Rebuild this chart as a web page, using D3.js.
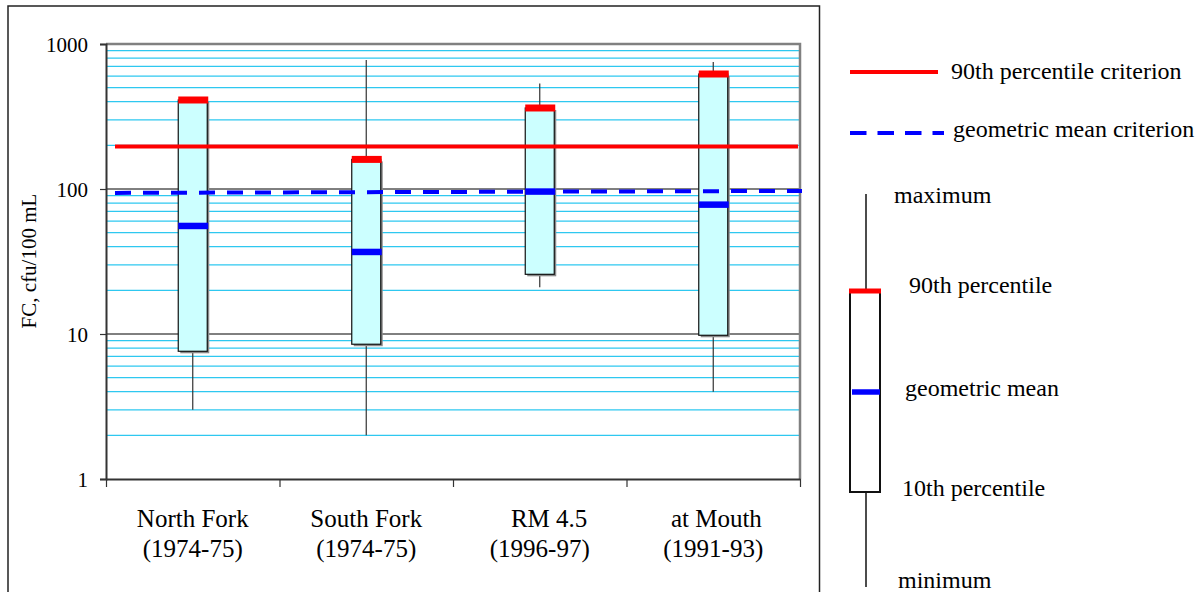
<!DOCTYPE html>
<html>
<head>
<meta charset="utf-8">
<script src="https://cdn.jsdelivr.net/npm/d3@7"></script>
<style>
  body { margin: 0; background: #fff; }
  text { font-family: "Liberation Serif", "Times New Roman", serif; fill: #000; }
</style>
</head>
<body>
<svg width="1199" height="592"></svg>
<script>
// data
var categories = ["North Fork", "South Fork", "   RM 4.5", " at Mouth"];
var periods = ["(1974-75)", "(1974-75)", "(1996-97)", "(1991-93)"];
var minimum = [3.0, 2.0, 21, 4.0];
var p10 = [7.6, 8.5, 25.8, 9.8];
var geoMean = [55.6, 36.8, 96, 78];
var p90 = [411, 160, 362, 621];
var maximum = [411, 776, 535, 752];
var pctCriterion = [196, 196];   // 90th percentile criterion, left and right end
var gmCriterion = [94, 97];      // geometric mean criterion, left and right end
var yTicks = [1, 10, 100, 1000];

var svg = d3.select("svg");

// outer frame
svg.append("rect").attr("x", 8).attr("y", 6).attr("width", 811.5).attr("height", 600)
    .attr("fill", "none").attr("stroke", "#222").attr("stroke-width", 1.5);

var plotL = 106, plotR = 800, plotT = 44, plotB = 479;

var y = d3.scaleLog().domain([1, 1000]).range([plotB, plotT]);
var x = d3.scaleBand().domain(d3.range(categories.length)).range([plotL, plotR]).padding(0);
var xEdge = d3.scaleLinear().domain([0, categories.length]).range([plotL, plotR]);
var boxW = 29;

var cx = function (i) { return x(i) + x.bandwidth() / 2; };

// minor gridlines
var minor = [];
[1, 10, 100].forEach(function (d) {
    for (var k = 2; k <= 9; k++) minor.push(d * k);
});
svg.append("g").selectAll("line").data(minor).enter().append("line")
    .attr("x1", plotL).attr("x2", plotR)
    .attr("y1", function (d) { return y(d); }).attr("y2", function (d) { return y(d); })
    .attr("stroke", "#2ec8f0").attr("stroke-width", 1.2);

// major gridlines
svg.append("g").selectAll("line").data([10, 100]).enter().append("line")
    .attr("x1", plotL).attr("x2", plotR)
    .attr("y1", function (d) { return y(d); }).attr("y2", function (d) { return y(d); })
    .attr("stroke", "#000").attr("stroke-width", 1);

// plot border top/right
svg.append("path")
    .attr("d", "M" + plotL + "," + plotT + "H" + plotR + "V" + plotB)
    .attr("fill", "none").attr("stroke", "#808080").attr("stroke-width", 2.5);

// y axis
var yAxis = svg.append("g").attr("transform", "translate(" + plotL + ",0)")
    .call(d3.axisLeft(y).tickValues(yTicks).tickFormat(d3.format("d")).tickSize(6).tickPadding(12));
yAxis.select(".domain").attr("stroke", "#333").attr("stroke-width", 2);
yAxis.selectAll(".tick line").attr("stroke", "#333").attr("stroke-width", 1.2);
yAxis.selectAll(".tick text").attr("font-size", 21).attr("font-family", "Liberation Serif")
    .attr("dy", "0.34em");

// x axis (ticks at band edges)
var xAxis = svg.append("g").attr("transform", "translate(0," + plotB + ")")
    .call(d3.axisBottom(xEdge).tickValues(d3.range(categories.length + 1)).tickFormat("").tickSize(8).tickSizeOuter(0));
xAxis.select(".domain").attr("stroke", "#333").attr("stroke-width", 2);
xAxis.selectAll(".tick line").attr("stroke", "#333").attr("stroke-width", 1.2);

// category labels
svg.append("g").selectAll("text").data(categories).enter().append("text")
    .attr("text-anchor", "middle").attr("font-size", 25).style("white-space", "pre")
    .attr("x", function (d, i) { return cx(i); }).attr("y", 527)
    .text(function (d) { return d; });
svg.append("g").selectAll("text").data(periods).enter().append("text")
    .attr("text-anchor", "middle").attr("font-size", 25)
    .attr("x", function (d, i) { return cx(i); }).attr("y", 557)
    .text(function (d) { return d; });

// y title
svg.append("text").attr("transform", "translate(36,261) rotate(-90)")
    .attr("text-anchor", "middle").attr("font-size", 21).text("FC, cfu/100 mL");

// boxes
var boxes = svg.append("g").selectAll("g").data(categories).enter().append("g");
boxes.append("line")
    .attr("x1", function (d, i) { return cx(i); }).attr("x2", function (d, i) { return cx(i); })
    .attr("y1", function (d, i) { return y(maximum[i]); }).attr("y2", function (d, i) { return y(p90[i]); })
    .attr("stroke", "#333").attr("stroke-width", 1.2);
boxes.append("line")
    .attr("x1", function (d, i) { return cx(i); }).attr("x2", function (d, i) { return cx(i); })
    .attr("y1", function (d, i) { return y(p10[i]); }).attr("y2", function (d, i) { return y(minimum[i]); })
    .attr("stroke", "#333").attr("stroke-width", 1.2);
// shadow
boxes.append("rect")
    .attr("x", function (d, i) { return cx(i) - boxW / 2 + 2; })
    .attr("y", function (d, i) { return y(p90[i]) + 2; })
    .attr("width", boxW)
    .attr("height", function (d, i) { return y(p10[i]) - y(p90[i]); })
    .attr("fill", "#8a8a8a");
boxes.append("rect")
    .attr("x", function (d, i) { return cx(i) - boxW / 2; })
    .attr("y", function (d, i) { return y(p90[i]); })
    .attr("width", boxW)
    .attr("height", function (d, i) { return y(p10[i]) - y(p90[i]); })
    .attr("fill", "#ccffff").attr("stroke", "#111").attr("stroke-width", 1.2);
boxes.append("line")
    .attr("x1", function (d, i) { return cx(i) - boxW / 2; }).attr("x2", function (d, i) { return cx(i) + boxW / 2 + 1; })
    .attr("y1", function (d, i) { return y(p90[i]); }).attr("y2", function (d, i) { return y(p90[i]); })
    .attr("stroke", "#ff0000").attr("stroke-width", 7);
boxes.append("line")
    .attr("x1", function (d, i) { return cx(i) - boxW / 2; }).attr("x2", function (d, i) { return cx(i) + boxW / 2 + 1; })
    .attr("y1", function (d, i) { return y(geoMean[i]); }).attr("y2", function (d, i) { return y(geoMean[i]); })
    .attr("stroke", "#0000ff").attr("stroke-width", 6.5);

// criterion lines
svg.append("line")
    .attr("x1", plotL + 9).attr("x2", plotR - 2)
    .attr("y1", y(pctCriterion[0])).attr("y2", y(pctCriterion[1]))
    .attr("stroke", "#ff0000").attr("stroke-width", 4);
svg.append("line")
    .attr("x1", plotL + 9).attr("x2", plotR + 2)
    .attr("y1", y(gmCriterion[0])).attr("y2", y(gmCriterion[1]))
    .attr("stroke", "#0000ff").attr("stroke-width", 4).attr("stroke-dasharray", "16,12");

// legend
var lg = svg.append("g").attr("font-size", 24);
lg.append("line").attr("x1", 850).attr("x2", 938).attr("y1", 72).attr("y2", 72)
    .attr("stroke", "#ff0000").attr("stroke-width", 4);
lg.append("text").attr("x", 951).attr("y", 79).text("90th percentile criterion");
lg.append("line").attr("x1", 850).attr("x2", 944).attr("y1", 133).attr("y2", 133)
    .attr("stroke", "#0000ff").attr("stroke-width", 4).attr("stroke-dasharray", "16.5,11");
lg.append("text").attr("x", 953).attr("y", 137).text("geometric mean criterion");

lg.append("line").attr("x1", 866).attr("x2", 866).attr("y1", 194).attr("y2", 290)
    .attr("stroke", "#111").attr("stroke-width", 1.5);
lg.append("line").attr("x1", 866).attr("x2", 866).attr("y1", 492).attr("y2", 587)
    .attr("stroke", "#111").attr("stroke-width", 1.5);
lg.append("rect").attr("x", 850).attr("y", 291).attr("width", 30).attr("height", 201)
    .attr("fill", "#fff").attr("stroke", "#111").attr("stroke-width", 2);
lg.append("line").attr("x1", 849).attr("x2", 881).attr("y1", 291).attr("y2", 291)
    .attr("stroke", "#ff0000").attr("stroke-width", 5);
lg.append("line").attr("x1", 852).attr("x2", 880).attr("y1", 392).attr("y2", 392)
    .attr("stroke", "#0000ff").attr("stroke-width", 5.5);
lg.append("text").attr("x", 894).attr("y", 203).text("maximum");
lg.append("text").attr("x", 909).attr("y", 293).text("90th percentile");
lg.append("text").attr("x", 905).attr("y", 396).text("geometric mean");
lg.append("text").attr("x", 902).attr("y", 496).text("10th percentile");
lg.append("text").attr("x", 898).attr("y", 588).text("minimum");
</script>
</body>
</html>
